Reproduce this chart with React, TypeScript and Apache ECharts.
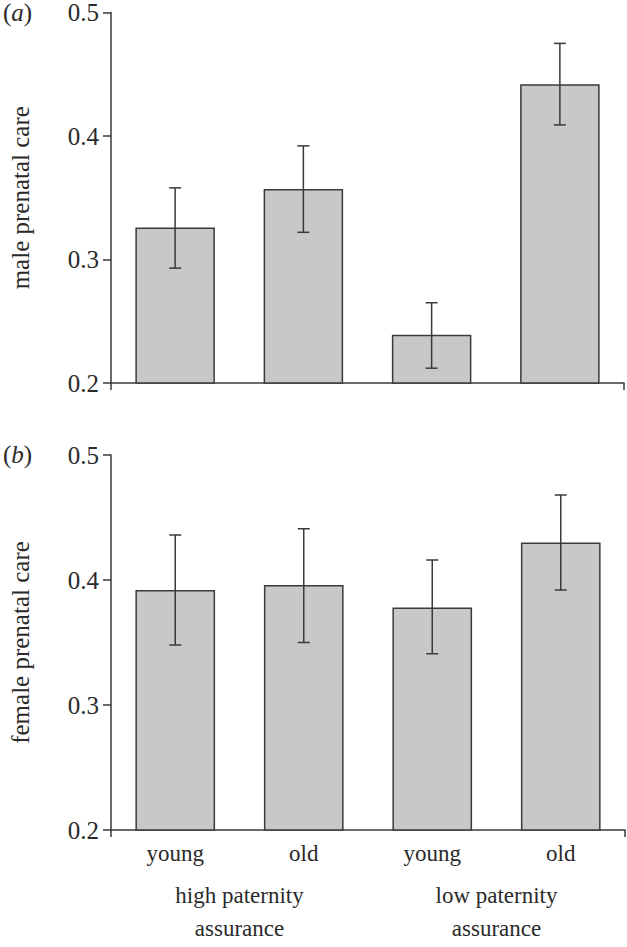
import React, { useEffect, useRef } from "react";
import * as echarts from "echarts";

const categories = ["young", "old", "young", "old"];
const groups = ["high paternity\nassurance", "low paternity\nassurance"];
const maleMean = [0.326, 0.357, 0.239, 0.442];
const maleLow = [0.293, 0.322, 0.212, 0.409];
const maleHigh = [0.358, 0.392, 0.265, 0.475];
const femaleMean = [0.392, 0.396, 0.378, 0.43];
const femaleLow = [0.348, 0.35, 0.341, 0.392];
const femaleHigh = [0.436, 0.441, 0.416, 0.468];
const yMin = 0.2;
const yMax = 0.5;
const yStep = 0.1;

const FONT = "Liberation Serif";
const TXT = "#2a2a2a";
const LINE = "#3a3a3a";

export default function App() {
  const ref = useRef<HTMLDivElement>(null);
  useEffect(() => {
    if (!ref.current) return;
    const chart = echarts.init(ref.current, undefined, { renderer: "svg" });

    const yAxisBase = (gridIndex: number, name: string) => ({
      type: "value",
      gridIndex,
      min: yMin,
      max: yMax,
      interval: yStep,
      name,
      nameLocation: "middle",
      nameRotate: 90,
      nameGap: 78,
      nameTextStyle: { fontFamily: FONT, fontSize: 25, color: TXT },
      axisLine: { show: true, lineStyle: { color: LINE, width: 1.5 } },
      axisTick: { show: true, inside: false, length: 8, lineStyle: { color: LINE, width: 1.5 } },
      axisLabel: {
        fontFamily: FONT,
        fontSize: 25,
        color: TXT,
        margin: 12,
        formatter: (v: number) => v.toFixed(1),
      },
      splitLine: { show: false },
    });

    const catAxis = (gridIndex: number, showLabel: boolean) => ({
      type: "category",
      gridIndex,
      data: categories,
      position: "bottom",
      axisLine: { show: true, lineStyle: { color: LINE, width: 1.5 } },
      axisTick: { show: false },
      axisLabel: { show: showLabel, fontFamily: FONT, fontSize: 23, color: TXT, margin: 12 },
      splitLine: { show: false },
    });

    const endTickAxis = (gridIndex: number) => ({
      type: "value",
      gridIndex,
      min: 0,
      max: 4,
      interval: 4,
      position: "bottom",
      axisLine: { show: false },
      axisTick: { show: true, inside: false, length: 7, lineStyle: { color: LINE, width: 1.5 } },
      axisLabel: { show: false },
      splitLine: { show: false },
    });

    const errSeries = (xAxisIndex: number, yAxisIndex: number, lo: number[], hi: number[]) => ({
      type: "custom",
      xAxisIndex,
      yAxisIndex,
      z: 5,
      encode: { x: 0, y: [1, 2] },
      data: lo.map((l, i) => [i, l, hi[i]]),
      renderItem: (params: any, api: any) => {
        const idx = api.value(0);
        const p1 = api.coord([idx, api.value(1)]);
        const p2 = api.coord([idx, api.value(2)]);
        const w = 6;
        const style = { stroke: LINE, lineWidth: 1.5 };
        return {
          type: "group",
          children: [
            { type: "line", shape: { x1: p1[0], y1: p1[1], x2: p2[0], y2: p2[1] }, style },
            { type: "line", shape: { x1: p1[0] - w, y1: p1[1], x2: p1[0] + w, y2: p1[1] }, style },
            { type: "line", shape: { x1: p2[0] - w, y1: p2[1], x2: p2[0] + w, y2: p2[1] }, style },
          ],
        };
      },
    });

    const barSeries = (xAxisIndex: number, yAxisIndex: number, data: number[]) => ({
      type: "bar",
      xAxisIndex,
      yAxisIndex,
      data,
      barWidth: "62%",
      itemStyle: { color: "#c8c8ca", borderColor: LINE, borderWidth: 1.5 },
    });

    const titleStyle = {
      fontFamily: FONT,
      fontSize: 25,
      fontWeight: "normal",
      color: TXT,
      rich: {
        n: { fontFamily: FONT, fontSize: 25, fontWeight: "normal", color: TXT },
        i: { fontFamily: FONT, fontSize: 25, fontWeight: "normal", color: TXT, fontStyle: "italic" },
      },
    };

    chart.setOption({
      animation: false,
      title: [
        { text: "{n|(}{i|a}{n|)}", left: 3, top: 0, padding: 0, textStyle: titleStyle },
        { text: "{n|(}{i|b}{n|)}", left: 3, top: 442, padding: 0, textStyle: titleStyle },
      ],
      grid: [
        { left: 107, top: 12, width: 517, height: 371 },
        { left: 107, top: 455, width: 518, height: 375 },
      ],
      xAxis: [
        catAxis(0, false),
        endTickAxis(0),
        catAxis(1, true),
        endTickAxis(1),
        {
          type: "category",
          gridIndex: 1,
          data: groups,
          position: "bottom",
          offset: 40,
          axisLine: { show: false },
          axisTick: { show: false },
          axisLabel: { fontFamily: FONT, fontSize: 23, color: TXT, margin: 9, lineHeight: 33 },
          splitLine: { show: false },
        },
      ],
      yAxis: [yAxisBase(0, "male prenatal care"), yAxisBase(1, "female prenatal care")],
      series: [
        barSeries(0, 0, maleMean),
        errSeries(0, 0, maleLow, maleHigh),
        barSeries(2, 1, femaleMean),
        errSeries(2, 1, femaleLow, femaleHigh),
      ],
    });
    return () => chart.dispose();
  }, []);
  return (
    <div
      ref={ref}
      style={{ position: "absolute", left: 0, top: 0, width: 627, height: 947, background: "#fff" }}
    />
  );
}
